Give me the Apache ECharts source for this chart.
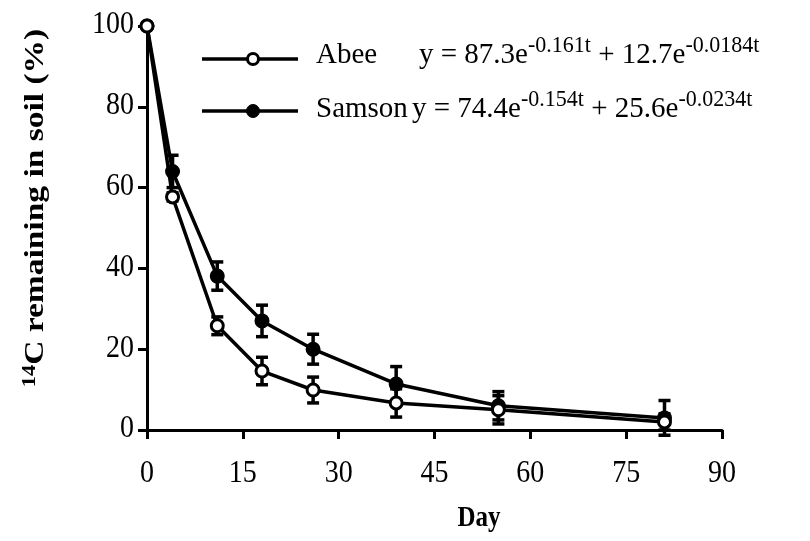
<!DOCTYPE html>
<html>
<head>
<meta charset="utf-8">
<script src="https://cdn.jsdelivr.net/npm/echarts@6/dist/echarts.min.js"></script>
<style>
  html, body { margin: 0; padding: 0; background: #fff; }
  #chart { width: 810px; height: 541px; }
</style>
</head>
<body>
<div id="chart"></div>
<script>
// Sampling days
const days = [0, 4, 11, 18, 26, 39, 55, 81];

// 14C remaining in soil (%), mean and standard error
const abee = [100, 57.7, 25.8, 14.6, 9.9, 6.7, 5.0, 2.0];
const abeeErr = [0, 1.0, 2.2, 3.4, 3.2, 3.5, 3.5, 2.0];
const samson = [100, 64.0, 38.1, 27.0, 20.0, 11.4, 6.0, 3.0];
const samsonErr = [0, 4.0, 3.5, 3.9, 3.7, 4.3, 3.5, 4.3];

// Axis ticks
const xTicks = [0, 15, 30, 45, 60, 75, 90];
const yTicks = [0, 20, 40, 60, 80, 100];

// Fitted double-exponential models shown beside each soil
const soils = ['Abee', 'Samson'];
const fits = {
  Abee: ['87.3', '-0.161t', '12.7', '-0.0184t'],
  Samson: ['74.4', '-0.154t', '25.6', '-0.0234t']
};

const FONT = '"Liberation Serif", "Times New Roman", serif';
const INK = '#000';
const TALL = 1.15;   // vertical stretch of the tick lettering

function pairs(ys) { return days.map((d, i) => [d, ys[i]]); }
function errRows(ys, es) { return days.map((d, i) => [d, ys[i] - es[i], ys[i] + es[i]]); }

function errorBarSeries(rows) {
  return {
    type: 'custom',
    silent: true,
    z: 1,
    clip: false,
    data: rows,
    encode: { x: 0, y: [1, 2] },
    renderItem: function (params, api) {
      if (api.value(2) - api.value(1) <= 0) return null;
      const lo = api.coord([api.value(0), api.value(1)]);
      const hi = api.coord([api.value(0), api.value(2)]);
      const cap = 6;
      const st = { stroke: INK, lineWidth: 3.5 };
      return {
        type: 'group',
        children: [
          { type: 'line', shape: { x1: lo[0], y1: lo[1], x2: hi[0], y2: hi[1] }, style: st },
          { type: 'line', shape: { x1: lo[0] - cap, y1: lo[1], x2: lo[0] + cap, y2: lo[1] }, style: st },
          { type: 'line', shape: { x1: hi[0] - cap, y1: hi[1], x2: hi[0] + cap, y2: hi[1] }, style: st }
        ]
      };
    }
  };
}

const chart = echarts.init(document.getElementById('chart'), null, { renderer: 'canvas' });

chart.setOption({
  backgroundColor: '#fff',
  animation: false,
  grid: { left: 147, right: 88, top: 26, bottom: 111 },
  xAxis: {
    type: 'value',
    min: 0, max: 90, interval: 15,
    axisLine: { lineStyle: { color: INK, width: 3 } },
    axisTick: { show: true, length: 9, lineStyle: { color: INK, width: 3 } },
    axisLabel: { show: false },
    splitLine: { show: false }
  },
  yAxis: {
    type: 'value',
    min: 0, max: 100, interval: 20,
    axisLine: { show: true, lineStyle: { color: INK, width: 3 } },
    axisTick: { show: true, length: 9, lineStyle: { color: INK, width: 3 } },
    axisLabel: { show: false },
    splitLine: { show: false }
  },
  series: [
    errorBarSeries(errRows(samson, samsonErr)),
    errorBarSeries(errRows(abee, abeeErr)),
    {
      name: 'Samson', type: 'line', z: 3, clip: false,
      data: pairs(samson),
      symbol: 'circle', symbolSize: 13,
      lineStyle: { color: INK, width: 3.5 },
      itemStyle: { color: INK, borderColor: INK, borderWidth: 2 }
    },
    {
      name: 'Abee', type: 'line', z: 4, clip: false,
      data: pairs(abee),
      symbol: 'circle', symbolSize: 12,
      lineStyle: { color: INK, width: 3.5 },
      itemStyle: { color: '#fff', borderColor: INK, borderWidth: 3 }
    }
  ]
});

// Lettering is drawn as graphic text so it can share the tall serif look
const px = (x, y) => chart.convertToPixel({ gridIndex: 0 }, [x, y]);
const graphics = [];

xTicks.forEach(v => {
  const p = px(v, 0);
  graphics.push({
    type: 'text', x: p[0], y: p[1] + 44, scaleY: TALL, z: 10,
    style: { text: String(v), font: '28px ' + FONT, fill: INK, align: 'center', verticalAlign: 'middle' }
  });
});
yTicks.forEach(v => {
  const p = px(0, v);
  graphics.push({
    type: 'text', x: p[0] - 13, y: p[1] - 1, scaleY: TALL, z: 10,
    style: { text: String(v), font: '28px ' + FONT, fill: INK, align: 'right', verticalAlign: 'middle' }
  });
});

// Axis titles
graphics.push({
  type: 'text', x: 479, y: 519, scaleY: TALL, z: 10,
  style: { text: 'Day', font: 'bold 25px ' + FONT, fill: INK, align: 'center', verticalAlign: 'middle' }
});
graphics.push({
  type: 'text', x: 36, y: 208, rotation: Math.PI / 2, scaleX: 1.24, z: 10,
  style: {
    text: '{sp|14}{b|C remaining in soil (%)}',
    align: 'center', verticalAlign: 'middle',
    rich: {
      sp: { font: 'bold 18px ' + FONT, fill: INK, padding: [0, 0, 12, 0] },
      b: { font: 'bold 27px ' + FONT, fill: INK }
    }
  }
});

// Key: line with marker, soil name and fitted equation
const keyRows = { Abee: 59, Samson: 111 };
const keyTextShift = { Abee: -4, Samson: -2 };
const keyNameWidth = { Abee: 103, Samson: 96 };
soils.forEach(name => {
  const y = keyRows[name];
  const f = fits[name];
  graphics.push({
    type: 'line', z: 10,
    shape: { x1: 202, y1: y, x2: 298, y2: y },
    style: { stroke: INK, lineWidth: 3.5 }
  });
  graphics.push({
    type: 'circle', z: 11,
    shape: { cx: 253, cy: y, r: name === 'Abee' ? 5.5 : 6.5 },
    style: { fill: name === 'Abee' ? '#fff' : INK, stroke: INK, lineWidth: name === 'Abee' ? 3 : 1 }
  });
  graphics.push({
    type: 'text', x: 316, y: y + keyTextShift[name], scaleY: 1.05, z: 10,
    style: {
      text: '{n|' + name + '}{t|y = ' + f[0] + 'e}{s|' + f[1] + '}{t| + ' + f[2] + 'e}{s|' + f[3] + '}',
      verticalAlign: 'middle',
      rich: {
        n: { font: '29px ' + FONT, fill: INK, width: keyNameWidth[name] },
        t: { font: '29px ' + FONT, fill: INK },
        s: { font: '22px ' + FONT, fill: INK, padding: [0, 0, 18, 0] }
      }
    }
  });
});

chart.setOption({ graphic: graphics });
</script>
</body>
</html>
